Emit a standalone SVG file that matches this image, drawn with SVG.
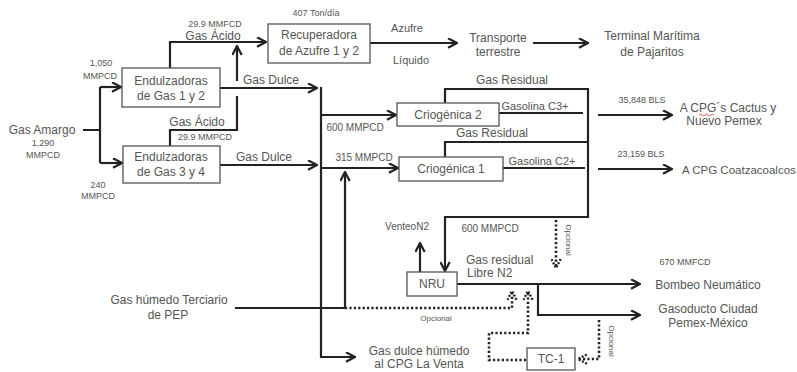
<svg xmlns="http://www.w3.org/2000/svg" width="797" height="372" viewBox="0 0 797 372">
<style>
text{font-family:"Liberation Sans",Arial,sans-serif;fill:#555;font-size:12px;text-anchor:middle}
.s{font-size:9px}
.m{font-size:10px}
.g{font-size:11px}
.o{font-size:8px}
.st{text-anchor:start}
.box{fill:#fff;stroke:#555;stroke-width:1.3}
.ln{fill:none;stroke:#222;stroke-width:2.2}
.dt{fill:none;stroke:#222;stroke-width:2.6;stroke-dasharray:2.2 2.2}
</style>
<defs>
<marker id="a" viewBox="0 0 11 11" refX="10" refY="5.5" markerWidth="11" markerHeight="11" markerUnits="userSpaceOnUse" orient="auto">
<path d="M1,0.8 L10,5.5 L1,10.2" fill="none" stroke="#222" stroke-width="2.2"/>
</marker>
<marker id="ad" viewBox="0 0 11 11" refX="10" refY="5.5" markerWidth="11" markerHeight="11" markerUnits="userSpaceOnUse" orient="auto">
<path d="M1,0.8 L10,5.5 L1,10.2" fill="none" stroke="#222" stroke-width="2.4" stroke-dasharray="2 1.6"/>
</marker>
</defs>
<rect width="797" height="372" fill="#fff"/>

<g id="connectors">
<path class="ln" d="M83,130 H100 M100,87 V163"/>
<path class="ln" d="M100,87 H121" marker-end="url(#a)"/>
<path class="ln" d="M100,163 H122" marker-end="url(#a)"/>
<path class="ln" d="M170,68 V42 H266" marker-end="url(#a)"/>
<path class="ln" d="M170,146 V130 H237 V96"/>
<path class="ln" d="M237,81 V46" marker-end="url(#a)"/>
<path class="ln" d="M220,88 H317" marker-end="url(#a)"/>
<path class="ln" d="M220,165 H317" marker-end="url(#a)"/>
<path class="ln" d="M370,43 H457" marker-end="url(#a)"/>
<path class="ln" d="M533,43 H588" marker-end="url(#a)"/>
<path class="ln" d="M321,87 V357 H355" marker-end="url(#a)"/>
<path class="ln" d="M321,115 H396" marker-end="url(#a)"/>
<path class="ln" d="M321,168 H398" marker-end="url(#a)"/>
<path class="ln" d="M235,308 H345 V172" marker-end="url(#a)"/>
<path class="ln" d="M445,103 V89 H588 V217 H445 V271" marker-end="url(#a)"/>
<path class="ln" d="M445,157 V142 H588"/>
<path class="ln" d="M499,113 H583"/>
<path class="ln" d="M503,168 H585"/>
<path class="ln" d="M598,115 H672" marker-end="url(#a)"/>
<path class="ln" d="M598,169 H672" marker-end="url(#a)"/>
<path class="ln" d="M420,272 V243" marker-end="url(#a)"/>
<path class="ln" d="M457,284 H640" marker-end="url(#a)"/>
<path class="ln" d="M538,284 V315 H640" marker-end="url(#a)"/>
<path class="dt" d="M556,220 V268" marker-end="url(#ad)"/>
<path class="dt" d="M345,308 H512 V291" marker-end="url(#ad)"/>
<path class="dt" d="M526,360 H489 V333 H528 V291" marker-end="url(#ad)"/>
<path class="dt" d="M599,320 V359 H578" marker-end="url(#ad)"/>
</g>

<g id="endulzadoras12">
<rect class="box" x="122" y="68" width="98" height="39"/>
<text x="171" y="85">Endulzadoras</text>
<text x="171" y="100">de Gas 1 y 2</text>
</g>
<g id="endulzadoras34">
<rect class="box" x="123" y="146" width="97" height="37"/>
<text x="171" y="161">Endulzadoras</text>
<text x="171" y="176">de Gas 3 y 4</text>
</g>
<g id="recuperadora">
<rect class="box" x="268" y="24" width="102" height="39"/>
<text x="319" y="39">Recuperadora</text>
<text x="319" y="55">de Azufre 1 y 2</text>
</g>
<g id="criogenica2">
<rect class="box" x="397" y="103" width="102" height="23"/>
<text x="448" y="119">Criogénica 2</text>
</g>
<g id="criogenica1">
<rect class="box" x="399" y="157" width="104" height="24"/>
<text x="451" y="173">Criogénica 1</text>
</g>
<g id="nru">
<rect class="box" x="407" y="272" width="50" height="24"/>
<text x="432" y="288">NRU</text>
</g>
<g id="tc1">
<rect class="box" x="527" y="348" width="48" height="22"/>
<text x="551" y="363">TC-1</text>
</g>

<g id="labels">
<text x="42" y="134">Gas Amargo</text>
<text class="s" x="43" y="146">1,290</text>
<text class="s" x="43" y="158">MMPCD</text>
<text class="s" x="101" y="66">1,050</text>
<text class="s" x="100" y="79">MMPCD</text>
<text class="s" x="98" y="188">240</text>
<text class="s" x="98" y="199">MMPCD</text>
<text class="s" x="215" y="27">29.9 MMFCD</text>
<text x="213" y="40">Gas Ácido</text>
<text x="197" y="126">Gas Ácido</text>
<text class="s" x="205" y="140">29.9 MMPCD</text>
<text x="271" y="84">Gas Dulce</text>
<text x="264" y="161">Gas Dulce</text>
<text class="s" x="316" y="16">407 Ton/día</text>
<text class="g" x="407" y="32">Azufre</text>
<text class="g" x="411" y="64">Líquido</text>
<text x="498" y="42">Transporte</text>
<text x="498" y="56">terrestre</text>
<text x="652" y="40">Terminal Marítima</text>
<text x="652" y="56">de Pajaritos</text>
<text x="512" y="84">Gas Residual</text>
<text class="g" x="535" y="110">Gasolina C3+</text>
<text class="m" x="355" y="131">600 MMPCD</text>
<text class="s" x="642" y="103">35,848 BLS</text>
<text x="728" y="112">A CPG´s Cactus y</text>
<path d="M699,115 q1.5,-1.5 3,0 t3,0 t3,0 t3,0 t3,0" fill="none" stroke="#d33" stroke-width="0.8"/>
<text x="724" y="125">Nuevo Pemex</text>
<text x="492" y="137">Gas Residual</text>
<text class="m" x="364" y="161">315 MMPCD</text>
<text class="g" x="542" y="165">Gasolina C2+</text>
<text class="s" x="641" y="157">23,159 BLS</text>
<text class="st" x="682" y="174" style="font-size:11.5px">A CPG Coatzacoalcos</text>
<text class="m" x="407" y="230">VenteoN2</text>
<text class="m" x="490" y="232">600 MMPCD</text>
<text class="st" x="466" y="264">Gas residual</text>
<text class="st" x="467" y="277">Libre N2</text>
<text class="s" x="685" y="265">670 MMFCD</text>
<text x="708" y="289">Bombeo Neumático</text>
<text x="708" y="313">Gasoducto Ciudad</text>
<text x="708" y="327">Pemex-México</text>
<text x="169" y="304">Gas húmedo Terciario</text>
<text x="168" y="319">de PEP</text>
<text class="o" x="436" y="321">Opcional</text>
<text class="o" transform="translate(566,240) rotate(90)">Opcional</text>
<text class="o" transform="translate(609,341) rotate(90)">Opcional</text>
<text x="419" y="355">Gas dulce húmedo</text>
<text x="419" y="368">al CPG La Venta</text>
</g>
</svg>
